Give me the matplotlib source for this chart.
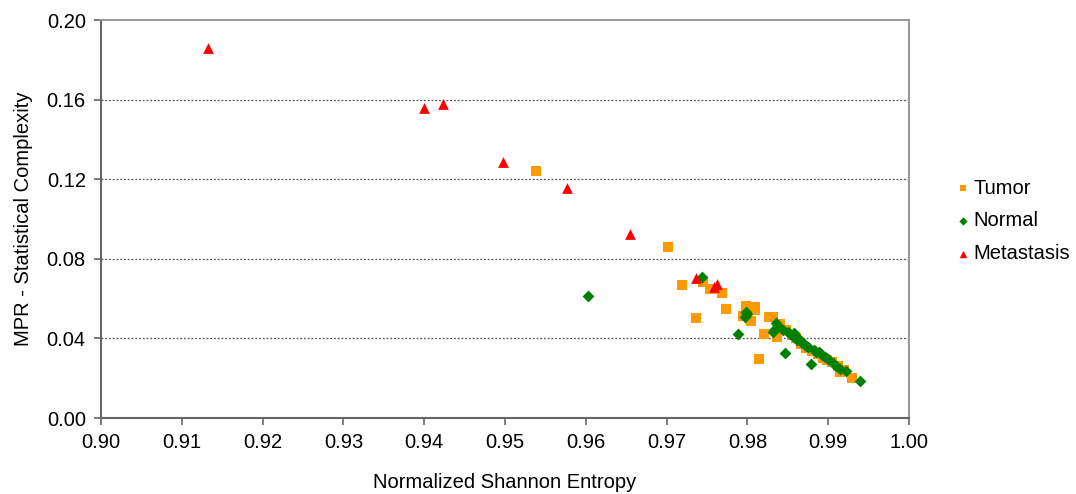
import numpy as np
import matplotlib
matplotlib.use("Agg")
from matplotlib import pyplot as plt

# entropy (x) / complexity (y)
tumor_x = [0.9538, 0.9702, 0.9745, 0.9719, 0.9753, 0.9758, 0.9769, 0.9773, 0.9736,
           0.9798, 0.9809, 0.9794, 0.9804, 0.9809, 0.9826, 0.9820, 0.9836, 0.9814,
           0.9832, 0.9840, 0.9848, 0.9855, 0.9860, 0.9866, 0.9873, 0.9880, 0.9887,
           0.9893, 0.9898, 0.9905, 0.9912, 0.9915, 0.9920, 0.9929]
tumor_y = [0.1243, 0.0861, 0.0685, 0.0667, 0.0650, 0.0647, 0.0628, 0.0548, 0.0501,
           0.0563, 0.0559, 0.0513, 0.0489, 0.0543, 0.0506, 0.0421, 0.0406, 0.0295,
           0.0509, 0.0470, 0.0440, 0.0415, 0.0400, 0.0372, 0.0350, 0.0338, 0.0320,
           0.0300, 0.0290, 0.0280, 0.0260, 0.0233, 0.0240, 0.0200]

normal_x = [0.9603, 0.9744, 0.9788, 0.9798, 0.9800, 0.9797, 0.9835, 0.9833, 0.9832,
            0.9838, 0.9844, 0.9847, 0.9850, 0.9853, 0.9857, 0.9858, 0.9861, 0.9864,
            0.9866, 0.9869, 0.9872, 0.9875, 0.9879, 0.9882, 0.9885, 0.9888, 0.9892,
            0.9896, 0.9900, 0.9906, 0.9910, 0.9915, 0.9922, 0.9939]
normal_y = [0.0611, 0.0707, 0.0424, 0.0534, 0.0523, 0.0506, 0.0479, 0.0442, 0.0434,
            0.0460, 0.0442, 0.0328, 0.0432, 0.0420, 0.0426, 0.0405, 0.0392, 0.0398,
            0.0380, 0.0375, 0.0362, 0.0355, 0.0270, 0.0340, 0.0330, 0.0333, 0.0318,
            0.0308, 0.0295, 0.0275, 0.0262, 0.0248, 0.0236, 0.0188]

meta_x = [0.9132, 0.9400, 0.9423, 0.9498, 0.9577, 0.9655, 0.9736, 0.9758, 0.9762]
meta_y = [0.1858, 0.1556, 0.1576, 0.1288, 0.1157, 0.0925, 0.0705, 0.0658, 0.0672]

x_ticks = np.arange(0.90, 1.0001, 0.01)
y_ticks = np.arange(0.0, 0.2001, 0.04)

plt.rcParams['font.family'] = ['Liberation Sans', 'DejaVu Sans']

fig = plt.figure(figsize=(10.76, 4.94), dpi=100)
ax = fig.add_axes([0.0939, 0.1538, 0.751, 0.8057])

ax.scatter(tumor_x, tumor_y, marker='s', s=45, color='#FF9900', linewidths=0, label='Tumor', zorder=3)
ax.scatter(normal_x, normal_y, marker='D', s=36, color='#008000', linewidths=0, label='Normal', zorder=4)
ax.scatter(meta_x, meta_y, marker='^', s=60, color='#FF0000', linewidths=0, label='Metastasis', zorder=5)

ax.set_xlim(0.90, 1.00)
ax.set_ylim(0.0, 0.20)
ax.set_xticks(x_ticks)
ax.set_yticks(y_ticks)
ax.set_xticklabels(['%.2f' % v for v in x_ticks])
ax.set_yticklabels(['%.2f' % v for v in y_ticks])
ax.tick_params(direction='out', length=5, width=1.2, color='#666666', labelsize=14.5, pad=6)

for v in y_ticks[1:-1]:
    ax.axhline(v, color='#555555', linestyle=(0, (1.5, 1.5)), linewidth=0.9, zorder=1)

for side in ['left', 'bottom']:
    ax.spines[side].set_color('#666666')
    ax.spines[side].set_linewidth(1.5)
for side in ['top', 'right']:
    ax.spines[side].set_color('#999999')
    ax.spines[side].set_linewidth(1.5)

ax.set_xlabel('Normalized Shannon Entropy', fontsize=14.5, labelpad=15)
ax.set_ylabel('MPR - Statistical Complexity', fontsize=14.5, labelpad=10)

fig.legend(loc='center left', bbox_to_anchor=(0.889, 0.553), frameon=False,
           fontsize=14.5, handlelength=0.6, handletextpad=0.25, labelspacing=0.68,
           markerscale=0.7, scatterpoints=1, borderaxespad=0, borderpad=0)

fig.savefig('out.png', dpi=100)
